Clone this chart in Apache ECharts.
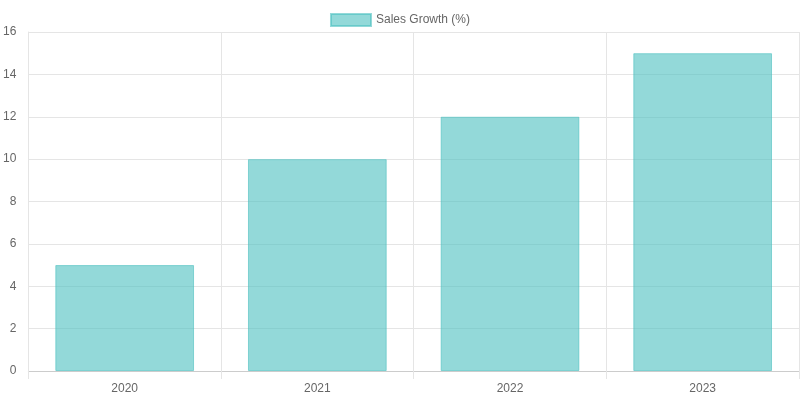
<!DOCTYPE html>
<html><head><meta charset="utf-8">
<script src="https://cdn.jsdelivr.net/npm/echarts@6/dist/echarts.min.js"></script>
<style>html,body{margin:0;padding:0;background:#fff}#c{width:800px;height:400px}</style>
</head><body><div id="c"></div>
<script>
const categories = ["2020","2021","2022","2023"];
const salesGrowth = [5,10,12,15];
const chart = echarts.init(document.getElementById('c'));
chart.setOption({
  animation:false,
  textStyle:{fontFamily:'Liberation Sans, Arial, sans-serif'},
  legend:{top:8,left:'center',itemWidth:40,itemHeight:12,itemGap:10,
    textStyle:{color:'#666',fontSize:12},
    data:[{name:'Sales Growth (%)',icon:'rect'}]},
  grid:{left:27,right:1,top:32,bottom:29},
  xAxis:{type:'category',data:categories,boundaryGap:true,
    axisLine:{lineStyle:{color:'#ccc'}},
    axisTick:{show:true,length:8,lineStyle:{color:'#e5e5e5'}},
    axisLabel:{color:'#666',fontSize:12,margin:12},
    splitLine:{show:true,lineStyle:{color:'#e5e5e5'}}},
  yAxis:{type:'value',min:0,max:16,interval:2,
    axisLine:{show:true,lineStyle:{color:'#e5e5e5'}},
    axisTick:{show:false},
    axisLabel:{color:'#666',fontSize:12,margin:12},
    splitLine:{lineStyle:{color:'#e5e5e5'}}},
  series:[{name:'Sales Growth (%)',type:'bar',data:salesGrowth,barWidth:'72%',
    itemStyle:{color:'rgba(75,192,192,0.6)',borderColor:'rgba(75,192,192,0.6)',borderWidth:1}}]
});
</script></body></html>
